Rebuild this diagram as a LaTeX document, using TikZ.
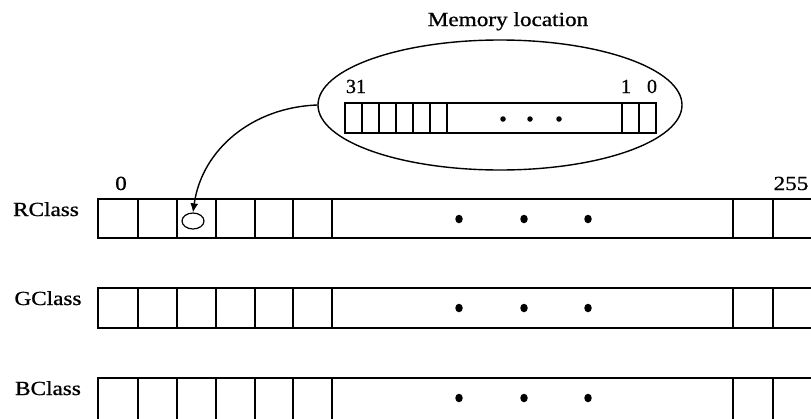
\documentclass[tikz,border=0pt]{standalone}
\usepackage{fontspec}
\setmainfont{Liberation Serif}
\newfontfamily\heavyserif[FakeBold=0.8]{Liberation Serif}
\usetikzlibrary{arrows.meta,shapes.geometric}
\newcommand{\widetxt}[1]{\scalebox{1.16}[1]{#1}}
\begin{document}
\begin{tikzpicture}[x=1pt,y=-1pt,
  lw/.style={line width=1.4pt},
  rowbox/.style={draw,lw,rectangle,inner sep=0pt,minimum width=714pt},
  lbl/.style={inner sep=0pt,anchor=base,font=\heavyserif\fontsize{20}{22}\selectfont},
  bigdot/.style={ellipse,fill=black,inner sep=0pt,minimum width=7.5pt,minimum height=8.5pt},
  smalldot/.style={circle,fill=black,inner sep=0pt,minimum size=5.5pt},
  oval/.style={draw,lw,ellipse,inner sep=0pt},
]
\useasboundingbox (0,0) rectangle (811,418);

% ---- memory location ----
\node[lbl] (title) at (508,26) {\widetxt{Memory location}};
\node[oval,minimum width=364pt,minimum height=130pt] (E) at (500,105) {};
\node[draw,lw,rectangle,inner sep=0pt,minimum width=311pt,minimum height=30pt] (M) at (500.5,118) {};
\foreach \x in {362,379,396,413,430,447,622,639}
  \draw[lw] (\x,103) -- (\x,133);
\node[smalldot] (md1) at (503,119) {};
\node[smalldot] (md2) at (530,119) {};
\node[smalldot] (md3) at (559,119) {};
\node[lbl] (b31) at (356,93) {31};
\node[lbl] (b1) at (626,93) {1};
\node[lbl] (b0) at (652,93) {0};

% ---- rows ----
\node[rowbox,minimum height=39pt] (R) at (455,218.5) {};
\node[rowbox,minimum height=40pt] (G) at (455,308) {};
\node[rowbox,minimum height=46pt] (B) at (455,401) {};
\foreach \x in {138,177,216,255,293,332,733,773}{
  \draw[lw] (\x,199) -- (\x,238);
  \draw[lw] (\x,288) -- (\x,328);
  \draw[lw] (\x,378) -- (\x,424);
}
\node[lbl] (rl) at (46,216) {\widetxt{RClass}};
\node[lbl] (gl) at (48,305) {\widetxt{GClass}};
\node[lbl] (bl) at (48,395) {\widetxt{BClass}};
\node[lbl] (n0) at (121,190) {\widetxt{0}};
\node[lbl] (n255) at (791,190) {\widetxt{255}};

\foreach \r/\y in {R/219,G/308,B/398}{
  \node[bigdot] (\r d1) at (459,\y) {};
  \node[bigdot] (\r d2) at (524,\y) {};
  \node[bigdot] (\r d3) at (588,\y) {};
}

% ---- small cell marker and connector ----
\node[oval,line width=1.2pt,minimum width=22pt,minimum height=16pt] (c) at (193,221) {};
\draw[lw,-{Latex[length=9pt,width=8pt]}] (E.west) to[out=182,in=82] (c.north);
\end{tikzpicture}
\end{document}
